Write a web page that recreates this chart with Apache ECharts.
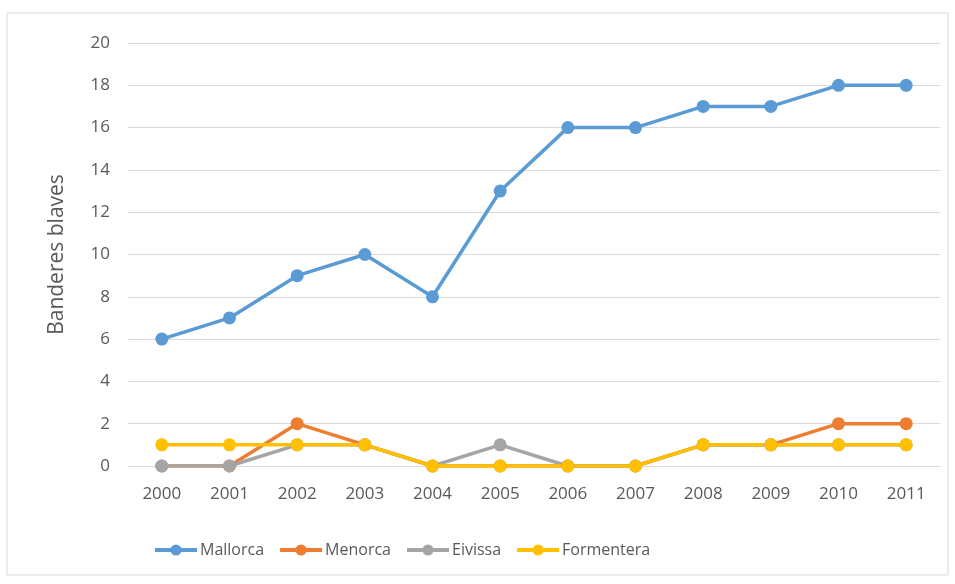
<!DOCTYPE html>
<html>
<head>
<meta charset="utf-8">
<script src="https://cdn.jsdelivr.net/npm/echarts@6/dist/echarts.min.js"></script>
<style>
  html, body { margin: 0; padding: 0; background: #fff; }
  #chart { width: 955px; height: 584px; }
</style>
</head>
<body>
<div id="chart"></div>
<script>
var years = ['2000', '2001', '2002', '2003', '2004', '2005', '2006', '2007', '2008', '2009', '2010', '2011'];
var mallorca = [6, 7, 9, 10, 8, 13, 16, 16, 17, 17, 18, 18];
var menorca = [0, 0, 2, 1, 0, 0, 0, 0, 1, 1, 2, 2];
var eivissa = [0, 0, 1, 1, 0, 1, 0, 0, 1, 1, 1, 1];
var formentera = [1, 1, 1, 1, 0, 0, 0, 0, 1, 1, 1, 1];

var chart = echarts.init(document.getElementById('chart'));

function mkSeries(name, data, color) {
    return {
        name: name,
        type: 'line',
        data: data,
        symbol: 'circle',
        symbolSize: 13,
        lineStyle: { width: 3.5, color: color },
        itemStyle: { color: color },
        animation: false
    };
}

var option = {
    textStyle: { fontFamily: 'Open Sans, Liberation Sans, sans-serif' },
    graphic: [{
        type: 'rect',
        shape: { x: 7, y: 13, width: 941, height: 562 },
        style: { fill: 'none', stroke: '#d9d9d9', lineWidth: 1 },
        silent: true
    }],
    grid: { left: 128, right: 15, top: 43, bottom: 118 },
    legend: {
        top: 537,
        left: 148,
        itemWidth: 42,
        itemHeight: 14,
        itemGap: 14,
        lineStyle: { width: 4 },
        textStyle: { fontSize: 16, color: '#595959', padding: [0, 0, 0, -2] },
        data: ['Mallorca', 'Menorca', 'Eivissa', 'Formentera']
    },
    xAxis: {
        type: 'category',
        data: years,
        boundaryGap: true,
        axisLine: { lineStyle: { color: '#d9d9d9' } },
        axisTick: { show: false },
        axisLabel: { fontSize: 17, color: '#595959', margin: 20 }
    },
    yAxis: {
        type: 'value',
        min: 0,
        max: 20,
        interval: 2,
        name: 'Banderes blaves',
        nameLocation: 'middle',
        nameGap: 60,
        nameTextStyle: { fontSize: 21, color: '#595959' },
        axisLine: { show: false },
        axisTick: { show: false },
        axisLabel: { fontSize: 17, color: '#595959', margin: 18 },
        splitLine: { lineStyle: { color: '#d9d9d9' } }
    },
    series: [
        mkSeries('Mallorca', mallorca, '#5B9BD5'),
        mkSeries('Menorca', menorca, '#ED7D31'),
        mkSeries('Eivissa', eivissa, '#A5A5A5'),
        mkSeries('Formentera', formentera, '#FFC000')
    ]
};

chart.setOption(option);
</script>
</body>
</html>
